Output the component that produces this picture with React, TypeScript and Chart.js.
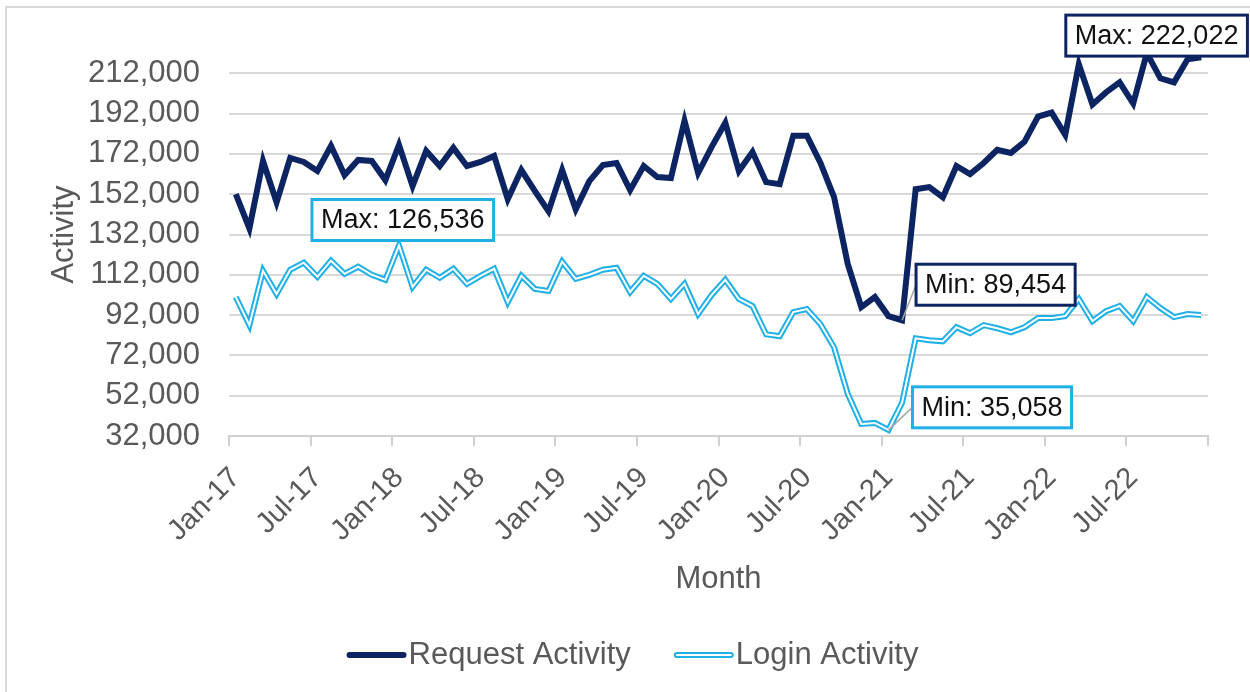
import React, { useEffect, useRef } from 'react';
import { Chart, registerables } from 'chart.js';

Chart.register(...registerables);

// ---------- data ----------
const MONTH_NAMES = ['Jan', 'Feb', 'Mar', 'Apr', 'May', 'Jun', 'Jul', 'Aug', 'Sep', 'Oct', 'Nov', 'Dec'];
const YEARS = ['17', '18', '19', '20', '21', '22'];
const MONTHS = YEARS.flatMap((y) => MONTH_NAMES.map((m) => `${m}-${y}`));

const REQUEST_ACTIVITY = [
  152000, 135000, 168500, 148000, 170000, 168000, 163500, 176000, 161500, 169000, 168500, 159000,
  176500, 156000, 173500, 166000, 175000, 166000, 168000, 171000, 149500, 164000, 153500, 143500,
  164000, 144500, 158500, 166500, 167500, 154000, 166000, 160500, 160000, 188500, 162500, 175500,
  187500, 163500, 173000, 158000, 157000, 181000, 181000, 167500, 150500, 117500, 96000, 101000,
  91500, 89454, 154500, 155500, 150500, 166000, 162000, 167500, 174000, 172500, 178000, 190500,
  192500, 181500, 216500, 196500, 202500, 207500, 197000, 222022, 209500, 207500, 219000, 220000,
];

const LOGIN_ACTIVITY = [
  101000, 87000, 114000, 102500, 114500, 118000, 111000, 119000, 112500, 116000, 112000, 109500,
  126536, 106000, 114500, 110500, 115000, 107500, 111500, 115000, 98500, 111500, 105000, 104000,
  118500, 110000, 112000, 114500, 115500, 103500, 111500, 107500, 100000, 107500, 92500, 102000,
  109500, 100000, 96500, 82500, 81500, 93500, 95000, 87500, 76000, 53000, 38000, 38500,
  35058, 48500, 80500, 79500, 79000, 86000, 83000, 87000, 85500, 83500, 86000, 90500,
  90500, 91500, 100000, 89000, 94000, 96500, 89000, 101000, 95500, 91000, 92500, 92000,
];

const Y_MIN = 32000;
const Y_MAX = 232000;
const Y_STEP = 20000;
const Y_LAST_LABEL = 212000;
const LABEL_EVERY = 6;

const SERIES_NAMES = ['Request Activity', 'Login Activity'];

// ---------- styles ----------
const FONT = "'Liberation Sans', Arial, sans-serif";
const NAVY = '#0c2461';
const CYAN = '#1fb0e6';
const TEXT_GRAY = '#595959';
const GRID_GRAY = '#d9d9d9';
const AXIS_GRAY = '#d0d0d0';

const fmt = (v: number) => v.toLocaleString('en-US');

// annotation boxes: which series, min or max, box offset from the point
const ANNOTATIONS = [
  { series: REQUEST_ACTIVITY, kind: 'max', color: NAVY, dx: -81, dy: -38, leader: false },
  { series: REQUEST_ACTIVITY, kind: 'min', color: NAVY, dx: 14, dy: -56, leader: true },
  { series: LOGIN_ACTIVITY, kind: 'max', color: CYAN, dx: -87, dy: -46, leader: false },
  { series: LOGIN_ACTIVITY, kind: 'min', color: CYAN, dx: 24, dy: -43, leader: true },
];

const framePlugin = {
  id: 'frame',
  beforeDraw(chart: any) {
    const { ctx } = chart;
    ctx.save();
    ctx.fillStyle = '#ffffff';
    ctx.fillRect(0, 0, chart.width, chart.height);
    ctx.strokeStyle = GRID_GRAY;
    ctx.lineWidth = 2;
    ctx.strokeRect(6, 7, chart.width + 20, chart.height + 20);
    ctx.restore();
  },
};

const annotationPlugin = {
  id: 'minMaxBoxes',
  afterDatasetsDraw(chart: any) {
    const { ctx } = chart;
    const xs = chart.scales.x;
    const ys = chart.scales.y;
    ctx.save();
    ctx.font = `27px ${FONT}`;
    for (const a of ANNOTATIONS) {
      const data = a.series;
      const target = a.kind === 'max' ? Math.max(...data) : Math.min(...data);
      const idx = data.indexOf(target);
      const px = xs.getPixelForValue(idx);
      const py = ys.getPixelForValue(target);
      const text = `${a.kind === 'max' ? 'Max' : 'Min'}: ${fmt(target)}`;
      const tw = ctx.measureText(text).width;
      const w = tw + 18;
      const h = 41;
      const bx = px + a.dx;
      const by = py + a.dy;
      if (a.leader) {
        ctx.strokeStyle = '#a6a6a6';
        ctx.lineWidth = 1.5;
        ctx.beginPath();
        ctx.moveTo(px, py);
        ctx.lineTo(bx, by + h / 2);
        ctx.stroke();
      }
      ctx.fillStyle = '#ffffff';
      ctx.fillRect(bx, by, w, h);
      ctx.strokeStyle = a.color;
      ctx.lineWidth = 3;
      ctx.strokeRect(bx, by, w, h);
      ctx.fillStyle = '#111111';
      ctx.textAlign = 'center';
      ctx.textBaseline = 'middle';
      ctx.fillText(text, bx + w / 2, by + h / 2 + 1);
    }
    ctx.restore();
  },
};

const legendPlugin = {
  id: 'bottomLegend',
  afterDraw(chart: any) {
    const { ctx } = chart;
    ctx.save();
    ctx.font = `31px ${FONT}`;
    const lineLen = 58;
    const gap = 3;
    const itemGap = 44;
    const items = [
      { label: SERIES_NAMES[0], color: NAVY, double: false },
      { label: SERIES_NAMES[1], color: CYAN, double: true },
    ];
    const widths = items.map((it) => ctx.measureText(it.label).width);
    const total = widths.reduce((s, w) => s + lineLen + gap + w, 0) + itemGap * (items.length - 1);
    let x = chart.width / 2 + 8 - total / 2;
    const y = 655;
    items.forEach((it, i) => {
      ctx.lineCap = 'round';
      ctx.strokeStyle = it.color;
      ctx.lineWidth = 6;
      ctx.beginPath();
      ctx.moveTo(x + 2, y);
      ctx.lineTo(x + lineLen - 2, y);
      ctx.stroke();
      if (it.double) {
        ctx.strokeStyle = '#ffffff';
        ctx.lineWidth = 2;
        ctx.beginPath();
        ctx.moveTo(x + 2, y);
        ctx.lineTo(x + lineLen - 2, y);
        ctx.stroke();
      }
      ctx.fillStyle = TEXT_GRAY;
      ctx.textAlign = 'left';
      ctx.textBaseline = 'middle';
      ctx.fillText(it.label, x + lineLen + gap, y);
      x += lineLen + gap + widths[i] + itemGap;
    });
    ctx.restore();
  },
};

export default function App() {
  const canvasRef = useRef<HTMLCanvasElement | null>(null);

  useEffect(() => {
    if (!canvasRef.current) return;
    const chart = new Chart(canvasRef.current, {
      type: 'line',
      data: {
        labels: MONTHS,
        datasets: [
          {
            label: SERIES_NAMES[0],
            data: REQUEST_ACTIVITY,
            borderColor: NAVY,
            borderWidth: 6,
            pointRadius: 0,
            tension: 0,
            fill: false,
            order: 0,
          },
          {
            label: SERIES_NAMES[1],
            data: LOGIN_ACTIVITY,
            borderColor: CYAN,
            borderWidth: 6,
            pointRadius: 0,
            tension: 0,
            fill: false,
            order: 2,
          },
          {
            label: '',
            data: LOGIN_ACTIVITY,
            borderColor: '#ffffff',
            borderWidth: 2,
            pointRadius: 0,
            tension: 0,
            fill: false,
            order: 1,
          },
        ],
      },
      options: {
        responsive: false,
        animation: false,
        events: [],
        layout: { padding: { top: 33, right: 42, bottom: 89, left: 0 } },
        plugins: {
          legend: { display: false },
          tooltip: { enabled: false },
          title: { display: false },
        },
        scales: {
          x: {
            type: 'category',
            offset: true,
            grid: {
              offset: true,
              drawOnChartArea: false,
              drawTicks: true,
              tickLength: 10,
              lineWidth: 2,
              color: (c: any) =>
                c.index === undefined || c.index % LABEL_EVERY === 0 ? AXIS_GRAY : 'rgba(0,0,0,0)',
            },
            border: { display: true, color: AXIS_GRAY, width: 2 },
            ticks: {
              autoSkip: false,
              minRotation: 45,
              maxRotation: 45,
              padding: 15,
              color: TEXT_GRAY,
              font: { size: 29, family: FONT },
              callback: (_v: any, i: number) => (i % LABEL_EVERY === 0 ? MONTHS[i] : ''),
            },
            title: {
              display: true,
              text: 'Month',
              color: TEXT_GRAY,
              font: { size: 31, family: FONT },
              padding: { top: 0, bottom: 5 },
            },
            afterFit: (s: any) => {
              s.height = 167;
            },
          },
          y: {
            min: Y_MIN,
            max: Y_MAX,
            grid: {
              drawTicks: false,
              lineWidth: 2,
              color: (c: any) => (c.tick && c.tick.value > Y_LAST_LABEL ? 'rgba(0,0,0,0)' : GRID_GRAY),
            },
            border: { display: false },
            ticks: {
              stepSize: Y_STEP,
              autoSkip: false,
              padding: 29,
              color: TEXT_GRAY,
              font: { size: 31, family: FONT },
              callback: (v: any) => (Number(v) > Y_LAST_LABEL ? '' : fmt(Number(v))),
            },
            title: {
              display: true,
              text: 'Activity',
              color: TEXT_GRAY,
              font: { size: 31, family: FONT },
              padding: { top: 46, bottom: 0 },
            },
            afterFit: (s: any) => {
              s.width = 229;
              s.paddingTop = 0;
              s.paddingBottom = 0;
            },
          },
        },
      },
      plugins: [framePlugin, annotationPlugin, legendPlugin],
    } as any);
    return () => chart.destroy();
  }, []);

  return (
    <div style={{ position: 'fixed', left: 0, top: 0, width: 1250, height: 692, background: '#fff' }}>
      <canvas ref={canvasRef} width={1250} height={692} />
    </div>
  );
}
